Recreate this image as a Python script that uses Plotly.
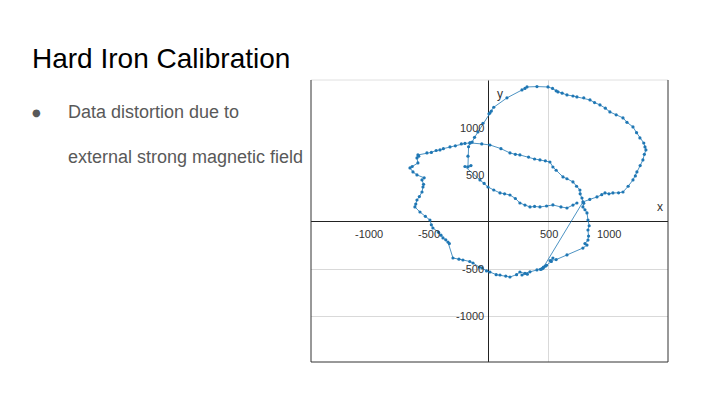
import plotly.graph_objects as go

# magnetometer readings (x, y)
mag_x = [450, 470, 430, 455, 400, 342, 300, 275, 320, 258, 230, 175, 140, 92, 60, 8, -20, -58, -80, -133,
         -160, -217, -250, -300, -342, -330, -360, -383, -400, -420, -467, -480, -492, -530, -575, -617, -610, -600, -580, -558,
         -550, -545, -558, -540, -600, -633, -658, -640, -592, -600, -585, -592, -517, -480, -440, -408, -380, -325, -280, -230,
         -200, -158,
         -140, -120, -92, -50, 8, 20, 0, 40, 150, 275, 300, 317, 400, 492, 530, 575, 560, 610, 650, 700,
         733, 790, 842, 880, 925, 970, 1008, 1060, 1117, 1150, 1200, 1230, 1258, 1290, 1300, 1308, 1295, 1283, 1260, 1233,
         1220, 1200, 1160, 1117, 1080, 1033, 1000, 967, 940, 900, 840, 783,
         450, 480, 440, 520, 533, 510, 560, 650, 783,
         817, 800, 825, 830, 825, 835, 825, 817, 800, 783, 790, 775, 760, 758, 730, 700, 650, 617, 560, 533,
         508, 470, 425, 380, 330, 258, 220, 175, 100, 8, -60, -158,
         -170, -175, -175, -150, -200, -75, -40, -8, 40, 92, 130, 175, 220, 258, 300, 342, 380, 425, 480, 533,
         600, 650, 700, 733]
mag_y = [-490, -470, -505, -480, -510, -530, -545, -564, -555, -532, -560, -585, -575, -564, -560, -532, -520, -489, -480, -436,
         -420, -404, -395, -383, -213, -230, -190, -170, -140, -110, -64, -30, 21, 60, 106, 160, 190, 234, 270, 319,
         372, 400, 447, 470, 500, 532, 575, 590, 628, 681, 700, 713, 734, 740, 760, 766, 780, 798, 810, 830,
         835, 841,
         850, 900, 958, 1050, 1160, 1180, 1150, 1220, 1320, 1404, 1420, 1436, 1440, 1436, 1420, 1383, 1395, 1370, 1351, 1340,
         1330, 1320, 1298, 1270, 1245, 1210, 1170, 1140, 1107, 1060, 1011, 950, 894, 840, 798, 766, 720, 660, 600, 532,
         490, 447, 380, 319, 310, 309, 300, 309, 290, 266, 240, 213,
         -490, -460, -500, -420, -383, -410, -400, -350, -277,
         -245, -230, -192, -150, -85, -40, 21, 96, 130, 160, 200, 255, 300, 340, 380, 426, 460, 479, 550, 585,
         638, 650, 660, 670, 690, 713, 720, 734, 780, 819, 830, 841,
         800, 700, 585, 600, 590, 447, 410, 372, 340, 309, 300, 287, 250, 202, 180, 160, 165, 160, 170, 181,
         160, 149, 180, 202]

x_ticks = [-1000, -500, 500, 1000]
y_ticks = [1000, 500, -500, -1000]
x_grid = [500]
y_grid = [-1000, -500]

FONT = "Liberation Sans, Arial, sans-serif"
BLUE = "#1f77b4"
W, H = 720, 405
OFF = 8  # page body margin


def px(v):
    return (v - OFF) / W


def py(v):
    return 1 - (v - OFF) / H


fig = go.Figure()
fig.add_trace(go.Scatter(
    x=mag_x, y=mag_y, mode="lines+markers",
    line=dict(color=BLUE, width=0.8),
    marker=dict(size=3.2, color=BLUE),
    hoverinfo="skip",
))

# plot box in paper coords
x0, x1 = px(311), px(668)
y0, y1 = py(362), py(80)

fig.update_xaxes(domain=[x0, x1], range=[-1483, 1492], tickvals=x_grid, showticklabels=False,
                 showgrid=True, gridcolor="#d9d9d9", gridwidth=1,
                 zeroline=True, zerolinecolor="#222222", zerolinewidth=1, showline=False, ticks="")
fig.update_yaxes(domain=[y0, y1], range=[-1489, 1510], tickvals=y_grid, showticklabels=False,
                 showgrid=True, gridcolor="#d9d9d9", gridwidth=1,
                 zeroline=True, zerolinecolor="#222222", zerolinewidth=1, showline=False, ticks="")

annotations = []
for t in x_ticks:
    annotations.append(dict(x=t, y=0, xref="x", yref="y", text=str(t), showarrow=False,
                            xanchor="center", yanchor="top", yshift=-4,
                            font=dict(family=FONT, size=11, color="#333333")))
for t in y_ticks:
    annotations.append(dict(x=0, y=t, xref="x", yref="y", text=str(t), showarrow=False,
                            xanchor="right", yanchor="middle", xshift=-3,
                            font=dict(family=FONT, size=11, color="#333333")))
annotations.append(dict(x=1425, y=160, xref="x", yref="y", text="x", showarrow=False,
                        font=dict(family=FONT, size=12, color="#333333")))
annotations.append(dict(x=92, y=1362, xref="x", yref="y", text="y", showarrow=False,
                        font=dict(family=FONT, size=12, color="#333333")))

# slide text
annotations.append(dict(x=px(30), y=py(59), xref="paper", yref="paper", text="Hard Iron Calibration",
                        showarrow=False, xanchor="left", yanchor="middle",
                        font=dict(family=FONT, size=28, color="#000000")))
annotations.append(dict(x=px(30), y=py(112), xref="paper", yref="paper", text="●",
                        showarrow=False, xanchor="left", yanchor="middle",
                        font=dict(family="DejaVu Sans", size=10, color="#595959")))
annotations.append(dict(x=px(66), y=py(112), xref="paper", yref="paper", text="Data distortion due to",
                        showarrow=False, xanchor="left", yanchor="middle",
                        font=dict(family=FONT, size=18, color="#595959")))
annotations.append(dict(x=px(66), y=py(157), xref="paper", yref="paper", text="external strong magnetic field",
                        showarrow=False, xanchor="left", yanchor="middle",
                        font=dict(family=FONT, size=18, color="#595959")))

shapes = [
    dict(type="line", xref="paper", yref="paper", x0=x0, x1=x1, y0=y1, y1=y1, line=dict(color="#e0e0e0", width=1)),
    dict(type="line", xref="paper", yref="paper", x0=x0, x1=x1, y0=y0, y1=y0, line=dict(color="#333333", width=1)),
    dict(type="line", xref="paper", yref="paper", x0=x0, x1=x0, y0=y0, y1=y1, line=dict(color="#333333", width=1)),
    dict(type="line", xref="paper", yref="paper", x0=x1, x1=x1, y0=y0, y1=y1, line=dict(color="#333333", width=1)),
]

fig.update_layout(width=W, height=H, margin=dict(l=0, r=0, t=0, b=0),
                  paper_bgcolor="white", plot_bgcolor="white", showlegend=False,
                  annotations=annotations, shapes=shapes)

fig.write_html("out.html", config={"displayModeBar": False})
